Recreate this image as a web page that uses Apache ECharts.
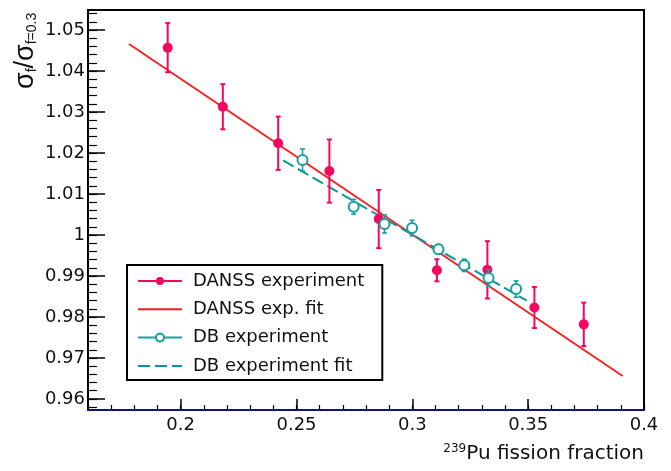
<!DOCTYPE html>
<html>
<head>
<meta charset="utf-8">
<title>239Pu fission fraction</title>
<script src="https://cdn.jsdelivr.net/npm/echarts@6/dist/echarts.min.js"></script>
<style>
    html, body { margin: 0; padding: 0; background: #fff; }
    #main { width: 671px; height: 471px; }
</style>
</head>
<body>
<div id="main"></div>
<script>
    // DANSS points (x, y, symmetric error)
    var danssX   = [0.1944, 0.2182, 0.2421, 0.2642, 0.2855, 0.3106, 0.3324, 0.3527, 0.3740];
    var danssY   = [1.0457, 1.0313, 1.0224, 1.0156, 1.0039, 0.9914, 0.9915, 0.9823, 0.9782];
    var danssErr = [0.0060, 0.0055, 0.0065, 0.0077, 0.0071, 0.0027, 0.0070, 0.0050, 0.0053];

    // Daya Bay points
    var dbX   = [0.2526, 0.2747, 0.2880, 0.2999, 0.3113, 0.3224, 0.3329, 0.3448];
    var dbY   = [1.0183, 1.0069, 1.0027, 1.0017, 0.9965, 0.9926, 0.9895, 0.9868];
    var dbErr = [0.0027, 0.0018, 0.0022, 0.0019, 0.0012, 0.0015, 0.0020, 0.0020];

    // fit lines (end points)
    var danssFitX = [0.1777, 0.3908];
    var danssFitY = [1.0466, 0.9656];
    var dbFitX = [0.2442, 0.3494];
    var dbFitY = [1.0182, 0.9840];

    // axes
    var xTicks = [0.2, 0.25, 0.3, 0.35, 0.4];
    var yTicks = [0.96, 0.97, 0.98, 0.99, 1, 1.01, 1.02, 1.03, 1.04, 1.05];
    var xMin = 0.16, xMax = 0.4, yMin = 0.9573, yMax = 1.0549;

    var xMinor = [], yMinor = [];
    for (var i = 16; i <= 40; i++) xMinor.push(i / 100);
    for (var j = 479; j <= 527; j++) yMinor.push(j / 500);

    var pink = '#f5075f', red = '#ff1a1a', teal = '#16a0a0', tealFit = '#0e9696';
    var font = 'DejaVu Sans';

    function pts(xs, ys) {
        var out = [];
        for (var i = 0; i < xs.length; i++) out.push([xs[i], ys[i]]);
        return out;
    }
    function errs(xs, ys, es) {
        var out = [];
        for (var i = 0; i < xs.length; i++) out.push([xs[i], ys[i] - es[i], ys[i] + es[i]]);
        return out;
    }
    function errBar(color, cap, w) {
        return function (params, api) {
            var x = api.value(0);
            var hi = api.coord([x, api.value(2)]);
            var lo = api.coord([x, api.value(1)]);
            var st = {stroke: color, lineWidth: w};
            return {
                type: 'group',
                children: [
                    {type: 'line', shape: {x1: hi[0], y1: hi[1], x2: lo[0], y2: lo[1]}, style: st},
                    {type: 'line', shape: {x1: hi[0] - cap, y1: hi[1], x2: hi[0] + cap, y2: hi[1]}, style: st},
                    {type: 'line', shape: {x1: lo[0] - cap, y1: lo[1], x2: lo[0] + cap, y2: lo[1]}, style: st}
                ]
            };
        };
    }

    var chart = echarts.init(document.getElementById('main'));
    var option = {
        animation: false,
        backgroundColor: '#fff',
        grid: {left: 88, right: 27, top: 10, bottom: 61, show: true, borderColor: '#000', borderWidth: 2},
        xAxis: [{
            type: 'value', min: xMin, max: xMax,
            axisLine: {show: true, lineStyle: {color: '#14146e', width: 2}},
            axisTick: {show: true, inside: true, length: 11, customValues: xTicks, lineStyle: {color: '#000', width: 1.5}},
            axisLabel: {customValues: xTicks, margin: 6, color: '#111', fontFamily: font, fontSize: 18},
            splitLine: {show: false}
        }, {
            type: 'value', min: xMin, max: xMax, position: 'bottom',
            axisLine: {show: false},
            axisTick: {show: true, inside: true, length: 5, customValues: xMinor, lineStyle: {color: '#000', width: 1.2}},
            axisLabel: {show: false},
            splitLine: {show: false}
        }],
        yAxis: [{
            type: 'value', min: yMin, max: yMax,
            axisLine: {show: true, lineStyle: {color: '#000', width: 2}},
            axisTick: {show: true, inside: true, length: 17, customValues: yTicks, lineStyle: {color: '#000', width: 1.5}},
            axisLabel: {customValues: yTicks, margin: 3, color: '#111', fontFamily: font, fontSize: 18},
            splitLine: {show: false}
        }, {
            type: 'value', min: yMin, max: yMax, position: 'left',
            axisLine: {show: false},
            axisTick: {show: true, inside: true, length: 9, customValues: yMinor, lineStyle: {color: '#000', width: 1.2}},
            axisLabel: {show: false},
            splitLine: {show: false}
        }],
        legend: {
            left: 127, top: 265, orient: 'vertical',
            padding: [7, 18, 5, 10],
            itemWidth: 44, itemHeight: 10, itemGap: 10.3,
            borderColor: '#000', borderWidth: 2, backgroundColor: '#fff',
            textStyle: {fontFamily: font, fontSize: 18, color: '#111', padding: [0, 0, 0, 6]},
            data: [
                {name: 'DANSS experiment', lineStyle: {width: 2, opacity: 1, color: pink}},
                {name: 'DANSS exp. fit', itemStyle: {opacity: 0}},
                {name: 'DB experiment', lineStyle: {width: 2, opacity: 1, color: teal}},
                {name: 'DB experiment fit', itemStyle: {opacity: 0}}
            ]
        },
        graphic: [{
            type: 'text', x: 26, y: 89, rotation: Math.PI / 2,
            style: {
                text: '{a|σ}{b|f}{a|/σ}{b|f=0.3}',
                align: 'left', verticalAlign: 'middle', fill: '#111',
                rich: {
                    a: {fontFamily: 'Liberation Sans', fontSize: 27, fill: '#111'},
                    b: {fontFamily: 'Liberation Sans', fontSize: 14, fill: '#111', padding: [12, 0, 0, 0]}
                }
            }
        }, {
            type: 'text', right: 27, top: 443,
            style: {
                text: '{s|239}{m|Pu fission fraction}',
                fill: '#111',
                rich: {
                    s: {fontFamily: font, fontSize: 12, fill: '#111', padding: [0, 0, 10, 0]},
                    m: {fontFamily: font, fontSize: 20, fill: '#111'}
                }
            }
        }],
        series: [{
            name: 'DANSS exp. fit', type: 'line', symbol: 'none', z: 2,
            data: pts(danssFitX, danssFitY),
            lineStyle: {color: red, width: 1.8},
            itemStyle: {color: red}
        }, {
            name: 'DB experiment fit', type: 'line', symbol: 'none', z: 3,
            data: pts(dbFitX, dbFitY),
            lineStyle: {color: tealFit, width: 2, type: [12, 5]},
            itemStyle: {color: tealFit}
        }, {
            type: 'custom', z: 4,
            renderItem: errBar(pink, 2.5, 2),
            encode: {x: 0, y: [1, 2]},
            data: errs(danssX, danssY, danssErr)
        }, {
            name: 'DANSS experiment', type: 'line', z: 5,
            symbol: 'circle', symbolSize: 10, showSymbol: true,
            data: pts(danssX, danssY),
            lineStyle: {width: 0, opacity: 0},
            itemStyle: {color: pink}
        }, {
            type: 'custom', z: 6,
            renderItem: errBar(teal, 2.5, 1.6),
            encode: {x: 0, y: [1, 2]},
            data: errs(dbX, dbY, dbErr)
        }, {
            name: 'DB experiment', type: 'line', z: 7,
            symbol: 'emptyCircle', symbolSize: 10, showSymbol: true,
            data: pts(dbX, dbY),
            lineStyle: {width: 0, opacity: 0},
            itemStyle: {color: teal, borderWidth: 1.3}
        }]
    };
    chart.setOption(option);
</script>
</body>
</html>
